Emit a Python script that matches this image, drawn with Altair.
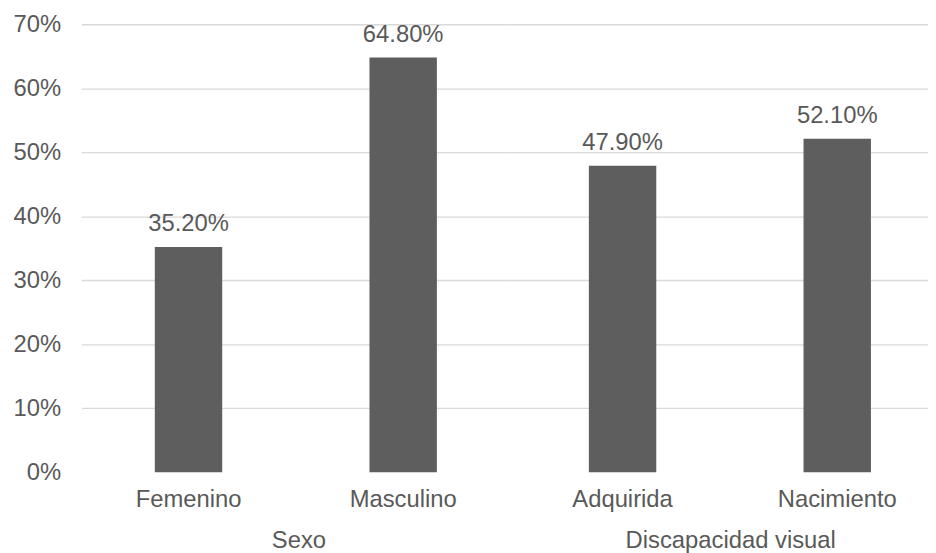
import altair as alt
import pandas as pd

categories = ["Femenino", "Masculino", "Adquirida", "Nacimiento"]
groups = ["Sexo", "Sexo", "Discapacidad visual", "Discapacidad visual"]
values = [0.352, 0.648, 0.479, 0.521]
group_names = ["Sexo", "Discapacidad visual"]
y_ticks = [0, 0.1, 0.2, 0.3, 0.4, 0.5, 0.6, 0.7]

df = pd.DataFrame({"cat": categories, "group": groups, "value": values})

FONT = "Liberation Sans"
TEXT = "#595959"
GRID = "#d9d9d9"
BAR = "#5e5e5e"
FS = 24

grid_op = {"condition": {"test": "datum.value === 0", "value": 0}, "value": 1}


def panel(group, first, align, dx):
    base = alt.Chart(df).transform_filter(alt.datum.group == group)
    xaxis = alt.Axis(title=None, labelAngle=0, ticks=False, domain=False,
                     labelPadding=15, labelFontSize=FS, labelColor=TEXT,
                     labelFont=FONT)
    x = alt.X("cat:N", sort=categories,
              scale=alt.Scale(paddingInner=0.686, paddingOuter=0.329, align=align),
              axis=xaxis)
    if first:
        yaxis = alt.Axis(title=None, format=".0%", values=y_ticks, ticks=False,
                         domain=False, labelPadding=21, labelFontSize=FS,
                         labelColor=TEXT, labelFont=FONT, gridColor=GRID,
                         gridWidth=1.3, gridOpacity=grid_op)
    else:
        yaxis = alt.Axis(title=None, values=y_ticks, labels=False, ticks=False,
                         domain=False, gridColor=GRID, gridWidth=1.3,
                         gridOpacity=grid_op)
    y = alt.Y("value:Q", scale=alt.Scale(domain=[0, 0.7], nice=False), axis=yaxis)
    bars = base.mark_bar(color=BAR).encode(x=x, y=y)
    text = base.mark_text(dy=-16, baseline="alphabetic", fontSize=FS, font=FONT,
                          color=TEXT).encode(
        x=alt.X("cat:N", sort=categories),
        y=alt.Y("value:Q"),
        text=alt.Text("value:Q", format=".2%"),
    )
    return alt.layer(bars, text).properties(
        width=427, height=452,
        title=alt.TitleParams(group, orient="bottom", fontSize=FS, font=FONT,
                              color=TEXT, fontWeight="normal", offset=18, dx=dx),
    )


chart = alt.hconcat(
    panel(group_names[0], True, 0.52, 6.0),
    panel(group_names[1], False, 0.596, 14.5),
    spacing=0,
    padding={"left": 4, "top": 2, "right": 0, "bottom": 0},
).configure(background="white").configure_view(strokeWidth=0)

chart.save("out.html", embed_options={"renderer": "svg", "actions": False})
